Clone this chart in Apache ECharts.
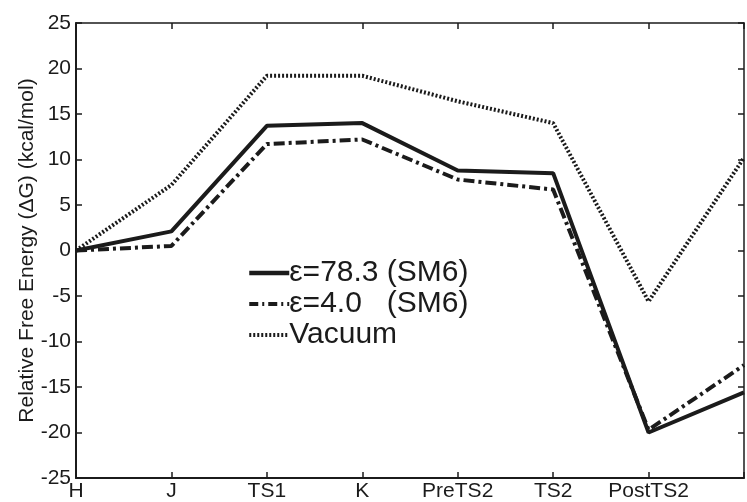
<!DOCTYPE html>
<html>
<head>
<meta charset="utf-8">
<script src="https://cdn.jsdelivr.net/npm/echarts@6/dist/echarts.min.js"></script>
<style>html,body{margin:0;padding:0;background:#fff}#c{width:747px;height:502px}</style>
</head>
<body>
<div id="c"></div>
<script>
var categories = ['H', 'J', 'TS1', 'K', 'PreTS2', 'TS2', 'PostTS2', ''];
var eps783 = [0, 2.1, 13.7, 14.0, 8.8, 8.5, -20.0, -15.6];
var eps40 = [0, 0.5, 11.7, 12.2, 7.8, 6.7, -19.7, -12.6];
var vacuum = [0, 7.2, 19.2, 19.2, 16.4, 14.0, -5.6, 10.2];
var yTicks = [-25, -20, -15, -10, -5, 0, 5, 10, 15, 20, 25];

var ink = '#1b1b1b';
var fontFam = '"Liberation Sans", Arial, sans-serif';
var chart = echarts.init(document.getElementById('c'));
chart.setOption({
  animation: false,
  backgroundColor: '#fff',
  grid: { left: 76, top: 23, width: 675, height: 456, containLabel: false },
  legend: {
    orient: 'vertical', left: 242, top: 253, itemGap: 1,
    itemWidth: 40, itemHeight: 30,
    itemStyle: { opacity: 0 },
    textStyle: { fontFamily: fontFam, fontSize: 30, color: ink, padding: [0, 0, 0, -5] },
    data: [
      { name: '\u03b5=78.3 (SM6)', lineStyle: { width: 4.5, type: 'solid', color: ink } },
      { name: '\u03b5=4.0   (SM6)', lineStyle: { width: 4, type: [9, 4, 2, 4], color: ink } },
      { name: 'Vacuum', lineStyle: { width: 4, type: [2, 2], color: ink } }
    ]
  },
  xAxis: [{
    type: 'category', data: categories, boundaryGap: false, position: 'bottom',
    axisLine: { onZero: false, lineStyle: { color: ink, width: 2 } },
    axisTick: { inside: true, length: 6, lineStyle: { color: ink, width: 1.5 } },
    axisLabel: { color: ink, fontFamily: fontFam, fontSize: 21, margin: 3, interval: 0 },
    splitLine: { show: false }
  }, {
    type: 'category', data: categories, boundaryGap: false, position: 'top',
    axisLine: { onZero: false, lineStyle: { color: ink, width: 1.5 } },
    axisTick: { inside: true, length: 6, lineStyle: { color: ink, width: 1.5 } },
    axisLabel: { show: false }, splitLine: { show: false }
  }],
  yAxis: [{
    type: 'value', min: yTicks[0], max: yTicks[yTicks.length - 1], interval: 5,
    position: 'left',
    name: 'Relative Free Energy (\u0394G) (kcal/mol)', nameLocation: 'middle', nameGap: 38,
    nameMoveOverlap: false,
    nameTextStyle: { fontFamily: fontFam, fontSize: 21, color: ink },
    axisLine: { show: true, onZero: false, lineStyle: { color: ink, width: 2 } },
    axisTick: { show: true, inside: true, length: 6, lineStyle: { color: ink, width: 1.5 } },
    axisLabel: { color: ink, fontFamily: fontFam, fontSize: 21, margin: 5 },
    splitLine: { show: false }
  }, {
    type: 'value', min: yTicks[0], max: yTicks[yTicks.length - 1], interval: 5,
    position: 'right',
    axisLine: { show: true, onZero: false, lineStyle: { color: ink, width: 1.5 } },
    axisTick: { show: true, inside: true, length: 6, lineStyle: { color: ink, width: 1.5 } },
    axisLabel: { show: false }, splitLine: { show: false }
  }],
  series: [{
    name: '\u03b5=78.3 (SM6)', type: 'line', data: eps783, symbol: 'none',
    lineStyle: { color: ink, width: 4, type: 'solid' }, itemStyle: { color: ink }, z: 3
  }, {
    name: '\u03b5=4.0   (SM6)', type: 'line', data: eps40, symbol: 'none',
    lineStyle: { color: ink, width: 4, type: [11, 4, 3, 4] }, itemStyle: { color: ink }, z: 2
  }, {
    name: 'Vacuum', type: 'line', data: vacuum, symbol: 'none',
    lineStyle: { color: ink, width: 4, type: [2, 2] }, itemStyle: { color: ink }, z: 1
  }]
});
</script>
</body>
</html>
